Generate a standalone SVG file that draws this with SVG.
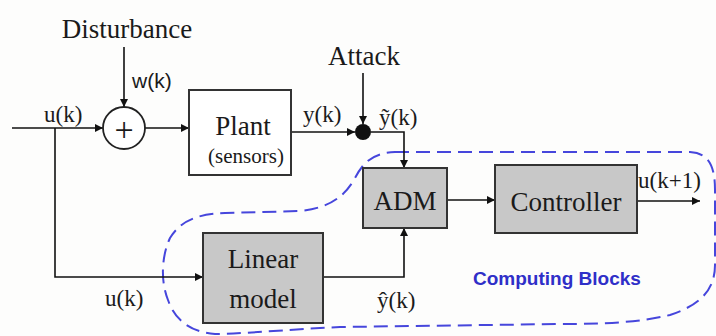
<svg xmlns="http://www.w3.org/2000/svg" width="716" height="336" viewBox="0 0 716 336">
<defs>
<marker id="arr" viewBox="0 0 10 10" refX="10" refY="5" markerWidth="8" markerHeight="8" markerUnits="userSpaceOnUse" orient="auto">
<path d="M0,0 L10,5 L0,10 Z" fill="#111"/>
</marker>
<style>
.t{font-family:"Liberation Serif","Times New Roman",serif;fill:#1a1a1a}
.big{font-size:27px}
.sm{font-size:23px}
.sans{font-family:"Liberation Sans",Arial,sans-serif;fill:#1a1a1a}
.box{fill:#c8c8c8;stroke:#333;stroke-width:2}
.wbox{fill:#fff;stroke:#333;stroke-width:2}
.ln{fill:none;stroke:#111;stroke-width:1.6}
.dash{fill:none;stroke:#4646dc;stroke-width:2;stroke-dasharray:14 7}
</style>
</defs>
<rect width="716" height="336" fill="#fdfdfc"/>
<g id="boundary">
<path class="dash" d="M395,152 L690,152 C708,153 715,165 715,190 L715,265 C715,290 700,305 670,315 C640,322 610,324 560,324 L340,327 C280,330 240,334 215,334 C190,332 175,320 168,300 C160,280 162,255 170,238 C180,222 195,214 225,213 L300,211 C330,208 345,196 355,178 C363,163 372,153 395,152 Z"/>
<text x="473" y="285" font-family="Liberation Sans,Arial,sans-serif" font-weight="bold" font-size="19" fill="#2f2fc8">Computing Blocks</text>
</g>
<g id="connectors">
<path class="ln" d="M12,128 L103,128" marker-end="url(#arr)"/>
<path class="ln" d="M55,128 L55,277 L203,277" marker-end="url(#arr)"/>
<path class="ln" d="M124,47 L124,107" marker-end="url(#arr)"/>
<path class="ln" d="M145,128 L189,128" marker-end="url(#arr)"/>
<path class="ln" d="M291,132 L355,132" marker-end="url(#arr)"/>
<path class="ln" d="M363,73 L363,124" marker-end="url(#arr)"/>
<path class="ln" d="M371,132 L404,132 L404,168" marker-end="url(#arr)"/>
<path class="ln" d="M447,200 L495,200" marker-end="url(#arr)"/>
<path class="ln" d="M637,201 L700,201" marker-end="url(#arr)"/>
<path class="ln" d="M323,277 L404,277 L404,228" marker-end="url(#arr)"/>
</g>
<g id="disturbance">
<text class="t big" x="127" y="38" text-anchor="middle">Disturbance</text>
<text class="sans" x="132" y="88" font-size="21">w(k)</text>
</g>
<g id="input-label">
<text class="t sm" x="44" y="122">u(k)</text>
</g>
<g id="sum">
<circle cx="124" cy="128" r="21" fill="#fff" stroke="#222" stroke-width="1.8"/>
<text class="t" x="124" y="141" font-size="34" text-anchor="middle">+</text>
</g>
<g id="plant">
<rect class="wbox" x="189" y="90" width="102" height="85"/>
<text class="t big" x="243" y="135" text-anchor="middle">Plant</text>
<text class="t" x="246" y="163" font-size="21" text-anchor="middle">(sensors)</text>
<text class="t sm" x="303" y="122">y(k)</text>
</g>
<g id="attack">
<text class="t big" x="364" y="65" text-anchor="middle">Attack</text>
<circle cx="363" cy="132" r="8" fill="#111"/>
<text class="t sm" x="379" y="125">ỹ(k)</text>
</g>
<g id="adm">
<rect class="box" x="363" y="168" width="84" height="60"/>
<text class="t big" x="405" y="210" text-anchor="middle">ADM</text>
</g>
<g id="controller">
<rect class="box" x="495" y="165" width="142" height="68"/>
<text class="t big" x="566" y="211" text-anchor="middle">Controller</text>
<text class="t sm" x="638" y="188">u(k+1)</text>
</g>
<g id="linear-model">
<rect class="box" x="203" y="233" width="120" height="90"/>
<text class="t big" x="263" y="268" text-anchor="middle">Linear</text>
<text class="t big" x="263" y="308" text-anchor="middle">model</text>
<text class="t sm" x="377" y="308">ŷ(k)</text>
<text class="t sm" x="105" y="306">u(k)</text>
</g>
</svg>
